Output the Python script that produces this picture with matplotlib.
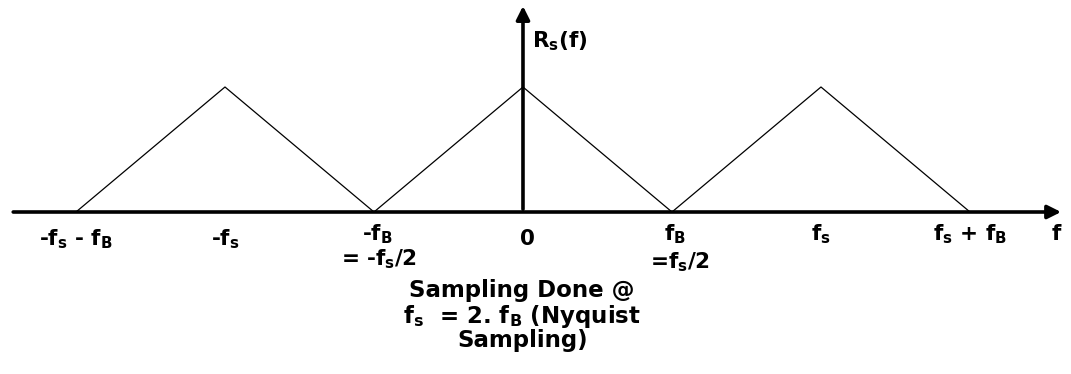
import matplotlib.pyplot as plt

plt.rcParams['font.family'] = ['DejaVu Sans']

# spectrum of sampled signal, f in units of f_B (f_s = 2 f_B)
freqs = [-3, -2, -1, 0, 1, 2, 3]
amplitude = [0, 1, 0, 1, 0, 1, 0]

tick_pos = [-3.0, -2.0, -0.98, 0.03, 1.02, 2.0, 3.0]
tick_base = [-0.264, -0.264, -0.224, -0.264, -0.224, -0.224, -0.224]
tick_labels = [r'-f$_\mathregular{s}$ - f$_\mathregular{B}$',
               r'-f$_\mathregular{s}$',
               r'-f$_\mathregular{B}$',
               '0',
               r'f$_\mathregular{B}$',
               r'f$_\mathregular{s}$',
               r'f$_\mathregular{s}$ + f$_\mathregular{B}$']
sub_pos = [-0.97, 1.05]
sub_base = [-0.424, -0.448]
sub_labels = [r'= -f$_\mathregular{s}$/2', r'=f$_\mathregular{s}$/2']
caption = ['Sampling Done @',
           r'f$_\mathregular{s}$  = 2. f$_\mathregular{B}$ (Nyquist',
           'Sampling)']
caption_base = [-0.68, -0.888, -1.08]

fig = plt.figure(figsize=(10.71, 3.74), dpi=100)
ax = fig.add_axes([0, 0, 1, 1])
ax.set_xlim(-3.51, 3.678)
ax.set_ylim(-1.296, 1.696)
ax.axis('off')

ax.plot(freqs, amplitude, color='black', lw=0.9)

# axes with arrows
ax.annotate('', xy=(3.63, 0), xytext=(-3.44, 0),
            arrowprops=dict(arrowstyle='-|>', lw=2.6, color='black', mutation_scale=20))
ax.annotate('', xy=(0, 1.67), xytext=(0, 0),
            arrowprops=dict(arrowstyle='-|>', lw=2.6, color='black', mutation_scale=20))

fs = 15.5
kw = dict(ha='center', va='baseline', fontsize=fs, fontweight='bold')
for x, y, lab in zip(tick_pos, tick_base, tick_labels):
    ax.text(x, y, lab, **kw)
for x, y, lab in zip(sub_pos, sub_base, sub_labels):
    ax.text(x, y, lab, **kw)

ax.text(3.58, -0.224, 'f', **kw)
ax.text(0.06, 1.32, r'R$_\mathregular{s}$(f)', ha='left', va='baseline',
        fontsize=fs, fontweight='bold')

for y, line in zip(caption_base, caption):
    ax.text(-0.005, y, line, ha='center', va='baseline', fontsize=16.5,
            fontweight='bold')

fig.savefig('out.png', dpi=100)
